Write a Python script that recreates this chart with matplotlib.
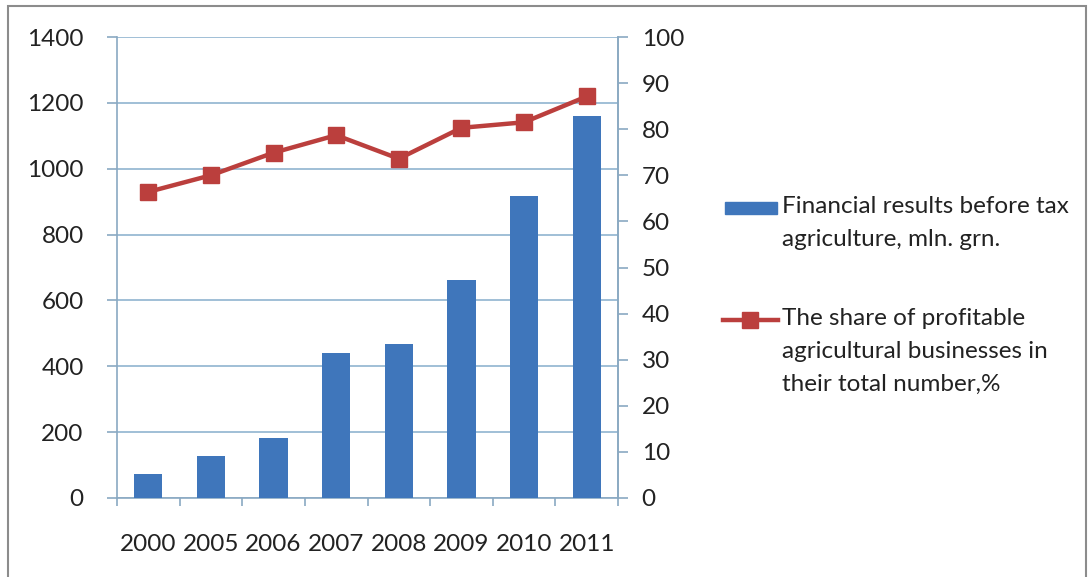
import matplotlib
matplotlib.use("Agg")
import matplotlib.pyplot as plt
from matplotlib.patches import Rectangle
from matplotlib.lines import Line2D
import numpy as np

years = ["2000", "2005", "2006", "2007", "2008", "2009", "2010", "2011"]
financial_results = [73, 128, 183, 440, 468, 662, 918, 1160]
profitable_share = [66.4, 70.0, 74.9, 78.7, 73.6, 80.3, 81.5, 87.1]
left_ticks = [0, 200, 400, 600, 800, 1000, 1200, 1400]
right_ticks = [0, 10, 20, 30, 40, 50, 60, 70, 80, 90, 100]
bar_label = "Financial results before tax\nagriculture, mln. grn."
line_label = "The share of profitable\nagricultural businesses in\ntheir total number,%"

plt.rcParams['font.family'] = ['Lato', 'DejaVu Sans']
BLUE = "#3F76BB"
RED = "#BB3F3D"
GRID = "#86AECB"
AXC = "#8AA9C2"
TXT = "#222222"
FS = 17.5

W, H = 1091, 577
fig = plt.figure(figsize=(W / 100, H / 100), dpi=100)
fig.patch.set_facecolor("#FFFFFF")

def fx(px):
    return px / W

def fy(py):
    return 1 - py / H

# outer chart frame
fig.patches.append(Rectangle((fx(8), -0.05), fx(1086 - 8), (H - 6) / H + 0.05,
                             transform=fig.transFigure, fill=False,
                             edgecolor="#8C8C8C", linewidth=1.5))

ax = fig.add_axes([fx(117), fy(498), fx(618 - 117), (498 - 37) / H])
x = np.arange(len(years))
ax.bar(x, financial_results, width=0.45, color=BLUE, zorder=3, label=bar_label)
ax.set_xlim(-0.5, len(years) - 0.5)
ax.set_ylim(0, 1400)
ax.set_yticks(left_ticks)
ax.set_xticks(x)
ax.set_xticklabels(years)
ax.set_xticks(np.arange(-0.5, len(years), 1), minor=True)
ax.tick_params(axis='x', which='major', length=0, pad=26, labelsize=FS, colors=TXT)
ax.tick_params(axis='x', which='minor', length=6, color=AXC, width=1.2)
ax.tick_params(axis='y', length=7, color=AXC, width=1.2, pad=17, labelsize=FS, labelcolor=TXT)
ax.yaxis.grid(True, color=GRID, linewidth=1.1, zorder=0)
ax.set_axisbelow(True)
ax.spines["top"].set_visible(False)
for s in ["left", "bottom", "right"]:
    ax.spines[s].set_color(AXC)
    ax.spines[s].set_linewidth(1.2)

ax2 = ax.twinx()
ax2.plot(x, profitable_share, color=RED, linewidth=3.2, marker="s",
         markersize=12, zorder=4, label=line_label)
ax2.set_ylim(0, 100)
ax2.set_yticks(right_ticks)
ax2.tick_params(axis='y', length=7, color=AXC, width=1.2, pad=10, labelsize=FS, labelcolor=TXT)
for s in ["top", "left", "bottom"]:
    ax2.spines[s].set_visible(False)
ax2.spines["right"].set_color(AXC)
ax2.spines["right"].set_linewidth(1.2)

# legend (handle aligned with the first text line, as in the original)
fig.patches.append(Rectangle((fx(725), fy(214)), fx(52), 12 / H,
                             transform=fig.transFigure, color=BLUE))
fig.lines.append(Line2D([fx(723), fx(778)], [fy(320), fy(320)],
                        transform=fig.transFigure, color=RED, linewidth=3.2))
fig.lines.append(Line2D([fx(750)], [fy(320)], transform=fig.transFigure,
                        color=RED, marker="s", markersize=11, linestyle="none"))

def legend_text(label, first_center, step=33):
    for i, line in enumerate(label.split("\n")):
        fig.text(fx(782), fy(first_center + i * step + 6), line, fontsize=FS,
                 color=TXT, ha="left", va="baseline")

legend_text(bar_label, 207)
legend_text(line_label, 319)

fig.savefig("out.png", dpi=100)
